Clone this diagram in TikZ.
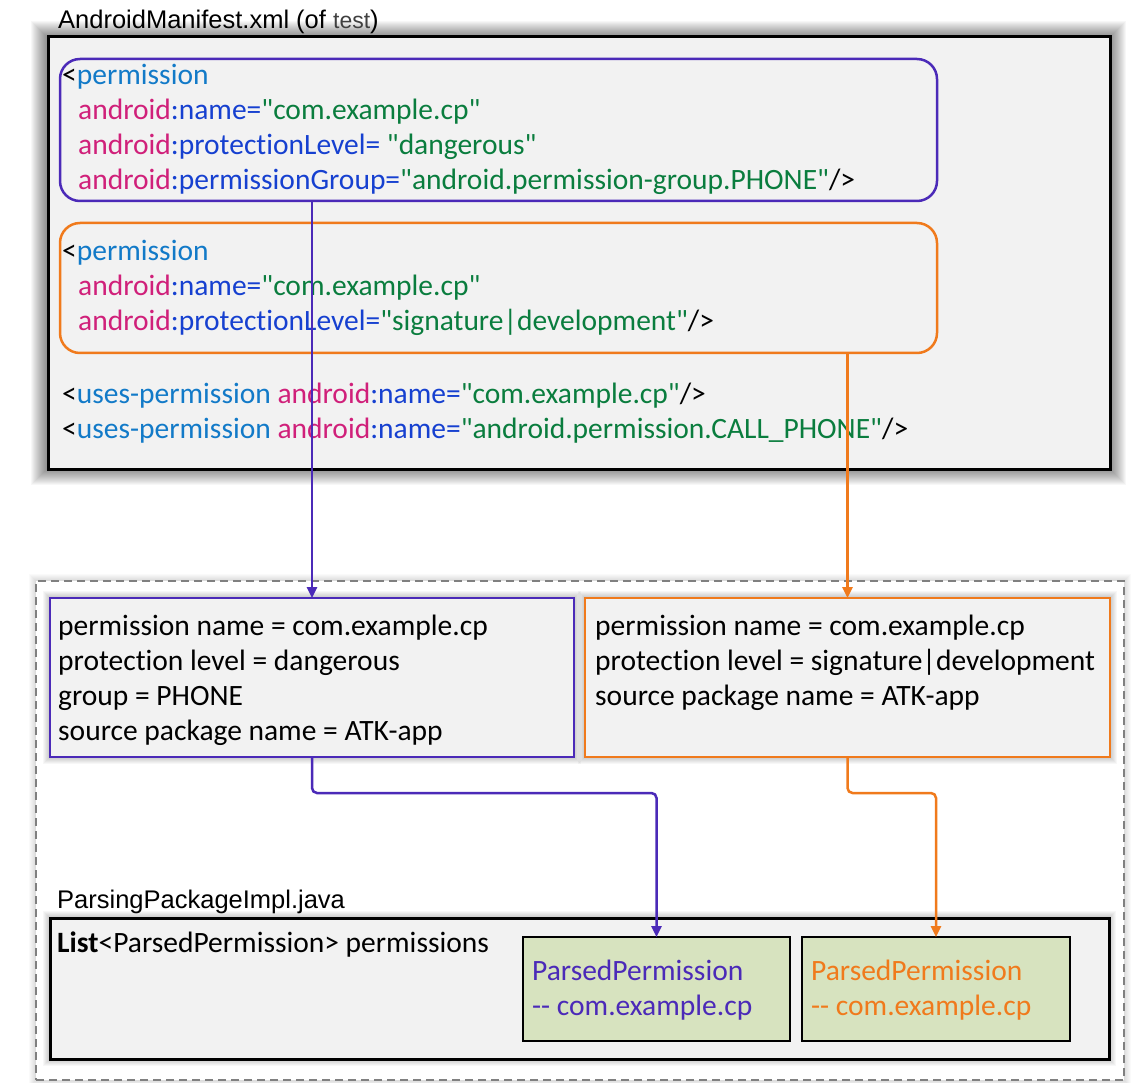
\documentclass[tikz,border=0pt]{standalone}
\usepackage{fontspec}
\setmainfont{Carlito}[Ligatures={TeXOff,NoCommon}]
\newfontfamily\titlefont{Liberation Sans}
\usetikzlibrary{arrows.meta,fit}
\definecolor{cpurple}{RGB}{75,42,184}
\definecolor{corange}{RGB}{240,122,28}
\definecolor{cperm}{RGB}{18,122,200}
\definecolor{cand}{RGB}{208,32,122}
\definecolor{cattr}{RGB}{22,64,208}
\definecolor{cval}{RGB}{10,125,62}
\definecolor{boxfill}{RGB}{242,242,242}
\definecolor{greenfill}{RGB}{215,227,191}
\definecolor{dashgray}{RGB}{128,128,128}
\newcommand{\tagA}[1]{\textcolor{cperm}{#1}}
\newcommand{\andr}{\textcolor{cand}{android}}
\newcommand{\attr}[1]{\textcolor{cattr}{#1}}
\newcommand{\val}[1]{\textcolor{cval}{#1}}
\tikzset{
  code/.style={anchor=base west, inner sep=0pt, font=\fontsize{29.5}{35}\selectfont},
  ttl/.style={anchor=base west, inner sep=0pt, font=\titlefont\fontsize{25.5}{30}\selectfont},
  fitbox/.style={inner sep=0pt, outer sep=0pt},
  parrow/.style={draw=cpurple, line width=2.5pt, -{Triangle[length=11pt,width=10pt]}},
  oarrow/.style={draw=corange, line width=2.5pt, -{Triangle[length=11pt,width=10pt]}},
}
\begin{document}
\begin{tikzpicture}[x=1pt,y=-1pt]
\useasboundingbox[fill=white] (0,0) rectangle (1133,1083);

% glows
\foreach \i in {1,...,16}
  \fill[black,opacity=0.032] (47-\i,37-\i) rectangle (1110+\i,469+\i);
\foreach \i in {1,...,7}
  \fill[black,opacity=0.02] (36-\i,581-\i) rectangle (1124+\i,1080+\i);
\fill[white] (36,581) rectangle (1124,1080);
\foreach \i in {1,...,7}{
  \fill[black,opacity=0.03] (50-\i,598-\i) rectangle (574+\i,757+\i);
  \fill[black,opacity=0.03] (585-\i,598-\i) rectangle (1110+\i,757+\i);
  \fill[black,opacity=0.03] (50-\i,918-\i) rectangle (1109+\i,1059+\i);
}

% top manifest box
\coordinate (tA) at (48,37); \coordinate (tB) at (1110,469);
\node[fitbox, fit=(tA)(tB), draw=black, line width=3pt, fill=boxfill] (top) {};
\node[ttl] (ttop) at (58,29) {AndroidManifest.xml (of {\fontsize{23}{27}\selectfont\color{black!75}test})};

\coordinate (pA) at (60,59); \coordinate (pB) at (937,201);
\node[fitbox, fit=(pA)(pB), draw=cpurple, line width=2.5pt, rounded corners=20pt] (pr) {};
\coordinate (oA) at (60,223); \coordinate (oB) at (937,353);
\node[fitbox, fit=(oA)(oB), draw=corange, line width=2.5pt, rounded corners=20pt] (or) {};

\node[code] (p1) at (62,85) {<\tagA{permission}};
\node[code] (p2) at (78,120) {\andr\attr{:name=}\val{"com.example.cp"}};
\node[code] (p3) at (78,155) {\andr\attr{:protectionLevel=} \val{"dangerous"}};
\node[code] (p4) at (78,190) {\andr\attr{:permissionGroup=}\val{"android.permission-group.PHONE"}/>};

\node[code] (o1) at (62,261) {<\tagA{permission}};
\node[code] (o2) at (78,296) {\andr\attr{:name=}\val{"com.example.cp"}};
\node[code] (o3) at (78,331) {\andr\attr{:protectionLevel=}\val{"signature|development"}/>};

\node[code] (u1) at (62,403) {<\tagA{uses-permission} \andr\attr{:name=}\val{"com.example.cp"}/>};
\node[code] (u2) at (62,438) {<\tagA{uses-permission} \andr\attr{:name=}\val{"android.permission.CALL\_PHONE"}/>};

% dashed container
\coordinate (dA) at (36,581); \coordinate (dB) at (1124,1080);
\node[fitbox, fit=(dA)(dB), draw=dashgray, line width=1.8pt, dash pattern=on 8pt off 5pt] (dash) {};

% parsed permission boxes
\coordinate (lA) at (50,598); \coordinate (lB) at (574,757);
\node[fitbox, fit=(lA)(lB), draw=cpurple, line width=2.5pt, fill=boxfill] (lb) {};
\coordinate (rA) at (585,598); \coordinate (rB) at (1110,757);
\node[fitbox, fit=(rA)(rB), draw=corange, line width=2.5pt, fill=boxfill] (rb) {};

\node[code] (l1) at (58,635) {permission name = com.example.cp};
\node[code] (l2) at (58,670) {protection level = dangerous};
\node[code] (l3) at (58,705) {group = PHONE};
\node[code] (l4) at (58,740) {source package name = ATK-app};

\node[code] (r1) at (595,635) {permission name = com.example.cp};
\node[code] (r2) at (595,670) {protection level = signature|development};
\node[code] (r3) at (595,705) {source package name = ATK-app};

% ParsingPackageImpl
\node[ttl] (tpp) at (57,908) {ParsingPackageImpl.java};
\coordinate (bA) at (50,918); \coordinate (bB) at (1109,1059);
\node[fitbox, fit=(bA)(bB), draw=black, line width=3pt, fill=boxfill] (bot) {};
\node[code] (list) at (57,952) {\textbf{List}<ParsedPermission> permissions};

\coordinate (g1A) at (523,937); \coordinate (g1B) at (790,1041);
\node[fitbox, fit=(g1A)(g1B), draw=black, line width=2.5pt, fill=greenfill] (g1) {};
\coordinate (g2A) at (802,937); \coordinate (g2B) at (1070,1041);
\node[fitbox, fit=(g2A)(g2B), draw=black, line width=2.5pt, fill=greenfill] (g2) {};

\node[code, text=cpurple] (g1t1) at (532,980) {ParsedPermission};
\node[code, text=cpurple] (g1t2) at (532,1015) {-{}- com.example.cp};
\node[code, text=corange] (g2t1) at (811,980) {ParsedPermission};
\node[code, text=corange] (g2t2) at (811,1015) {-{}- com.example.cp};

% connectors
\draw[parrow] (lb.north |- pr.south) -- (lb.north);
\draw[oarrow] (rb.north |- or.south) -- (rb.north);
\draw[parrow, rounded corners=5pt] (lb.south) -- ++(0,36) -| (g1.north);
\draw[oarrow, rounded corners=5pt] (rb.south) -- ++(0,36) -| (g2.north);
\end{tikzpicture}
\end{document}
